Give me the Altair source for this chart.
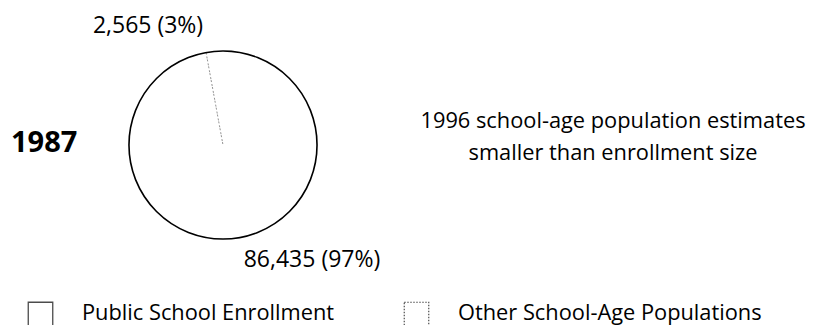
import math
import altair as alt
import pandas as pd

# ---- data ----
categories = ["Public School Enrollment", "Other School-Age Populations"]
values = [86435, 2565]
pie_labels = ["86,435 (97%)", "2,565 (3%)"]
year_label = ["1987"]
note_lines = ["1996 school-age population estimates", "smaller than enrollment size"]

FONT = "Open Sans"
W, H = 802, 317
CX, CY, R = 215, 137, 94

pie_df = pd.DataFrame({"category": categories, "value": values, "order": [0, 1]})

slices = alt.Chart(pie_df).mark_arc(radius=R, fill="white", strokeWidth=0).encode(
    theta=alt.Theta("value:Q", stack=True),
    order=alt.Order("order:Q"),
    x=alt.value(CX), y=alt.value(CY),
)

# divider between the two slices
divider = alt.Chart(pie_df).transform_joinaggregate(
    total="sum(value)"
).transform_filter(
    alt.datum.order == 0
).transform_calculate(
    ang="2*PI*datum.value/datum.total"
).mark_arc(radius=R, fillOpacity=0, stroke="#777", strokeWidth=0.8, strokeDash=[2, 5]).encode(
    theta=alt.Theta("ang:Q", scale=None),
    theta2="ang:Q",
    x=alt.value(CX), y=alt.value(CY),
)

outline = alt.Chart(pie_df).transform_aggregate(
    total="sum(value)"
).transform_calculate(
    a0="0", a1="2*PI"
).mark_arc(radius=R, fillOpacity=0, stroke="black", strokeWidth=1.6).encode(
    theta=alt.Theta("a0:Q", scale=None),
    theta2="a1:Q",
    x=alt.value(CX), y=alt.value(CY),
)

lbl_big = alt.Chart(pd.DataFrame({"t": [pie_labels[0]]})).mark_text(
    font=FONT, fontSize=23, align="center", baseline="alphabetic", color="black"
).encode(text="t:N", x=alt.value(304), y=alt.value(259))

lbl_small = alt.Chart(pd.DataFrame({"t": [pie_labels[1]]})).mark_text(
    font=FONT, fontSize=23, align="center", baseline="alphabetic", color="black"
).encode(text="t:N", x=alt.value(140), y=alt.value(25))

year = alt.Chart(pd.DataFrame({"t": year_label})).mark_text(
    font=FONT, fontSize=29, fontWeight="bold", align="left", baseline="alphabetic", color="black"
).encode(text="t:N", x=alt.value(3), y=alt.value(144))

note1 = alt.Chart(pd.DataFrame({"t": [note_lines[0]]})).mark_text(
    font=FONT, fontSize=21.8, align="center", baseline="alphabetic", color="black"
).encode(text="t:N", x=alt.value(605), y=alt.value(120))

note2 = alt.Chart(pd.DataFrame({"t": [note_lines[1]]})).mark_text(
    font=FONT, fontSize=21.8, align="center", baseline="alphabetic", color="black"
).encode(text="t:N", x=alt.value(605), y=alt.value(152))

box1 = alt.Chart(pd.DataFrame({"c": [categories[0]]})).mark_square(
    size=600, filled=False, stroke="black", strokeWidth=1.3
).encode(x=alt.value(32.5), y=alt.value(306.5))

box2 = alt.Chart(pd.DataFrame({"c": [categories[1]]})).mark_square(
    size=600, filled=False, stroke="black", strokeWidth=1.2, strokeDash=[1.5, 1.5]
).encode(x=alt.value(408.5), y=alt.value(306.5))

leg1 = alt.Chart(pd.DataFrame({"c": [categories[0]]})).mark_text(
    font=FONT, fontSize=21.8, align="left", baseline="alphabetic", color="black"
).encode(text="c:N", x=alt.value(74), y=alt.value(312))

leg2 = alt.Chart(pd.DataFrame({"c": [categories[1]]})).mark_text(
    font=FONT, fontSize=21.8, align="left", baseline="alphabetic", color="black"
).encode(text="c:N", x=alt.value(450), y=alt.value(312))

chart = alt.layer(
    slices, divider, outline, lbl_big, lbl_small, year, note1, note2, box1, box2, leg1, leg2
).properties(
    width=W, height=H, autosize=alt.AutoSizeParams(type="none"), padding=0
).configure_view(stroke=None)

chart.save("out.html", embed_options={"renderer": "svg", "actions": False})
